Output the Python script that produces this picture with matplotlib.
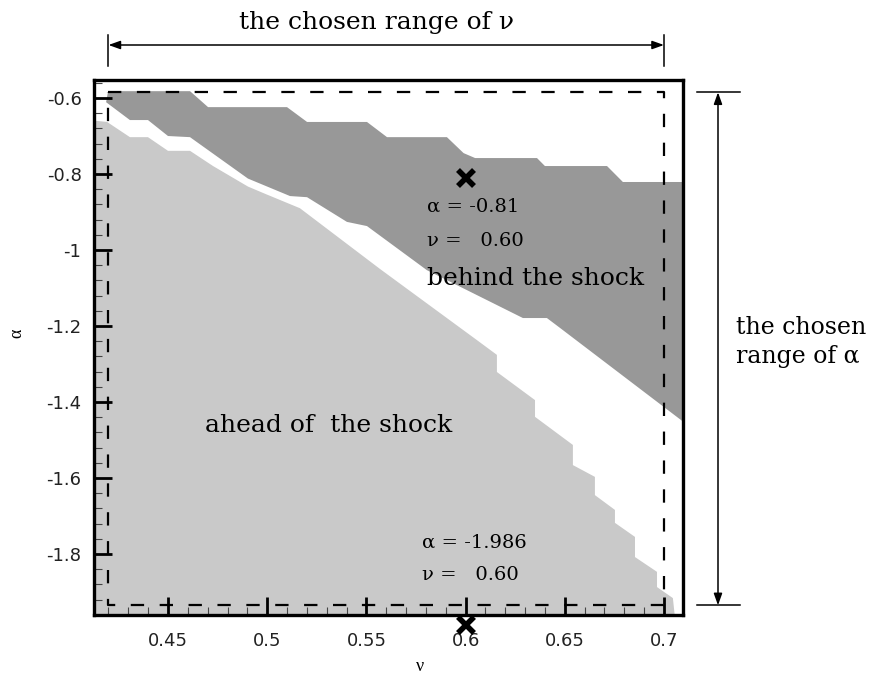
import matplotlib
matplotlib.use('Agg')
import matplotlib.pyplot as plt
from matplotlib.ticker import MultipleLocator
from matplotlib.transforms import blended_transform_factory

# region "behind the shock": upper edge left->right, then lower edge right->left
behind_nu = [0.4198, 0.4611, 0.4702, 0.5100, 0.5201, 0.5503, 0.5604, 0.5906,
             0.5990, 0.6048, 0.6360, 0.6400, 0.6713, 0.6793, 0.7100,
             0.7100, 0.6476, 0.6410, 0.6289, 0.5805, 0.5503, 0.5402, 0.5201,
             0.5115, 0.4903, 0.4611, 0.4500, 0.4399, 0.4308, 0.4188]
behind_alpha = [-0.582, -0.582, -0.624, -0.624, -0.663, -0.663, -0.703, -0.703,
                -0.745, -0.758, -0.758, -0.779, -0.779, -0.821, -0.821,
                -1.453, -1.205, -1.179, -1.179, -1.053, -0.937, -0.926, -0.861,
                -0.858, -0.812, -0.703, -0.700, -0.658, -0.658, -0.611]

# region "ahead of the shock": staircase upper edge, closed along left and bottom
ahead_nu = [0.4100, 0.4100, 0.4193, 0.4308, 0.4399, 0.4500, 0.4611, 0.4727,
            0.4903, 0.4989, 0.5165, 0.5569, 0.6057, 0.6158, 0.6158, 0.6350,
            0.6350, 0.6541, 0.6541, 0.6652, 0.6652, 0.6753, 0.6753, 0.6854,
            0.6854, 0.6965, 0.6965, 0.7045, 0.7056]
ahead_alpha = [-1.970, -0.658, -0.663, -0.703, -0.703, -0.739, -0.739, -0.779,
               -0.833, -0.852, -0.890, -1.050, -1.237, -1.276, -1.321, -1.395,
               -1.439, -1.513, -1.566, -1.597, -1.645, -1.684, -1.718, -1.755,
               -1.808, -1.847, -1.887, -1.916, -1.970]

# chosen parameter ranges
nu_range = [0.42, 0.70]
alpha_range = [-1.935, -0.585]

# marked points
point_nu = [0.60, 0.60]
point_alpha = [-0.81, -1.986]

xticks = [0.45, 0.5, 0.55, 0.6, 0.65, 0.7]
yticks = [-1.8, -1.6, -1.4, -1.2, -1.0, -0.8, -0.6]

fig = plt.figure(figsize=(8.73, 6.79), dpi=100)
ax = fig.add_axes([94 / 873, 64 / 679, 589 / 873, 535 / 679])

ax.fill(ahead_nu, ahead_alpha, color='#c9c9c9', lw=0, zorder=1)
ax.fill(behind_nu, behind_alpha, color='#989898', lw=0, zorder=1)

# dashed box of the chosen ranges
box_x = [nu_range[0], nu_range[1], nu_range[1], nu_range[0], nu_range[0]]
box_y = [alpha_range[1], alpha_range[1], alpha_range[0], alpha_range[0], alpha_range[1]]
ax.plot(box_x, box_y, color='black', lw=1.6, linestyle=(0, (6, 7)), zorder=3)

ax.plot(point_nu, point_alpha, linestyle='none', marker='x', ms=12, mew=4,
        color='black', zorder=5, clip_on=False)

ax.set_xlim(0.4127, 0.7096)
ax.set_ylim(-1.9605, -0.5526)
ax.set_xticks(xticks)
ax.set_yticks(yticks)
ax.set_xticklabels(['0.45', '0.5', '0.55', '0.6', '0.65', '0.7'])
ax.set_yticklabels(['-1.8', '-1.6', '-1.4', '-1.2', '-1', '-0.8', '-0.6'])
ax.xaxis.set_minor_locator(MultipleLocator(0.01))
ax.yaxis.set_minor_locator(MultipleLocator(0.04))
ax.tick_params(which='major', direction='in', length=13, width=2, labelsize=13,
               labelcolor='#222222')
ax.tick_params(which='minor', direction='in', length=6, width=0.8, color='#444444')
ax.tick_params(axis='x', which='major', pad=12)
ax.tick_params(axis='y', which='major', pad=9)
for sp in ax.spines.values():
    sp.set_linewidth(2.4)

ax.set_xlabel('ν', family='Liberation Serif', fontsize=13, va='center')
ax.xaxis.set_label_coords(0.553, -0.097)
ax.set_ylabel('α', family='Liberation Serif', fontsize=13, va='center')
ax.yaxis.set_label_coords(-0.131, 0.527)

serif = 'DejaVu Serif'
ax.text(0.5805, -0.900, 'α = -0.81', family=serif, fontsize=14, zorder=6)
ax.text(0.5805, -0.990, 'ν =   0.60', family=serif, fontsize=14, zorder=6)
ax.text(0.5805, -1.093, 'behind the shock', family=serif, fontsize=18, zorder=6)
ax.text(0.4686, -1.478, 'ahead of  the shock', family=serif, fontsize=18, zorder=6)
ax.text(0.578, -1.782, 'α = -1.986', family=serif, fontsize=14, zorder=6)
ax.text(0.578, -1.868, 'ν =   0.60', family=serif, fontsize=14, zorder=6)

# range of nu, above the axes
top = blended_transform_factory(ax.transData, fig.transFigure)
for v in nu_range:
    ax.plot([v, v], [1 - 35 / 679, 1 - 66 / 679], transform=top, color='black',
            lw=1.1, clip_on=False)
ax.annotate('', xy=(nu_range[0], 1 - 45 / 679), xytext=(nu_range[1], 1 - 45 / 679),
            xycoords=top, textcoords=top,
            arrowprops=dict(arrowstyle='<|-|>,head_length=0.7,head_width=0.25',
                            color='black', lw=1.1, shrinkA=0, shrinkB=0))
ax.text(0.5 * (nu_range[0] + nu_range[1]) - 0.005, 1 - 22 / 679, 'the chosen range of ν',
        transform=top, ha='center', va='center', family=serif, fontsize=18)

# range of alpha, right of the axes
right = blended_transform_factory(fig.transFigure, ax.transData)
for a in alpha_range:
    ax.plot([697 / 873, 740 / 873], [a, a], transform=right, color='black',
            lw=1.1, clip_on=False)
ax.annotate('', xy=(718 / 873, alpha_range[1]), xytext=(718 / 873, alpha_range[0]),
            xycoords=right, textcoords=right,
            arrowprops=dict(arrowstyle='<|-|>,head_length=0.7,head_width=0.25',
                            color='black', lw=1.1, shrinkA=0, shrinkB=0))
fig.text(736 / 873, 1 - 327 / 679, 'the chosen', ha='left', va='center',
         family=serif, fontsize=17)
fig.text(736 / 873, 1 - 357 / 679, 'range of α', ha='left', va='center',
         family=serif, fontsize=17)

fig.savefig('out.png', dpi=100)
